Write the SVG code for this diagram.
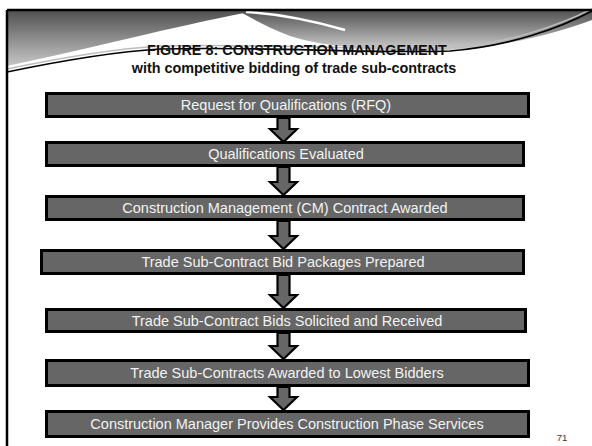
<svg xmlns="http://www.w3.org/2000/svg" width="592" height="446" viewBox="0 0 592 446">
<defs>
<linearGradient id="gL" x1="0" y1="10" x2="0" y2="70" gradientUnits="userSpaceOnUse">
<stop offset="0" stop-color="#505050"/><stop offset="1" stop-color="#cfcfcf"/>
</linearGradient>
<linearGradient id="gR" x1="0" y1="10" x2="0" y2="52" gradientUnits="userSpaceOnUse">
<stop offset="0" stop-color="#505050"/><stop offset="1" stop-color="#d4d4d4"/>
</linearGradient>
</defs>
<style>
.box{fill:#666666;stroke:#000;stroke-width:3}
.lbl{font-family:"Liberation Sans",Arial,sans-serif;font-size:14.5px;fill:#f2f2f2;text-anchor:middle}
.arr{fill:#666666;stroke:#000;stroke-width:2.2;stroke-linejoin:miter}
.ttl{font-family:"Liberation Sans",Arial,sans-serif;font-size:14.4px;font-weight:bold;fill:#111;text-anchor:middle}
</style>
<rect width="592" height="446" fill="#fff"/>
<g id="header">
<path d="M7,10 H262 C200,20 110,44 7,66 Z" fill="url(#gL)"/>
<path d="M236,10 H592 V20 C560,32 510,46 450,50 C380,53 320,46 290,36 C268,28 252,18 236,10 Z" fill="url(#gR)"/>
<path d="M246,12 C280,14 310,20 345,30" fill="none" stroke="#fff" stroke-width="2.5"/>
<path d="M7,69 C60,58 110,49 160,46 C250,43 380,51 450,48 C510,43 560,25 592,9" fill="none" stroke="#bdbdbd" stroke-width="1.5"/>
<path d="M7,72 C60,61 110,52 160,49 C250,46 380,54 450,51 C510,46 560,28 592,11" fill="none" stroke="#000" stroke-width="1.6"/>
<path d="M7,10 H592 M7,10 V446" fill="none" stroke="#000" stroke-width="2.5"/>
</g>
<g id="title">
<text class="ttl" x="297" y="55">FIGURE 8:  CONSTRUCTION MANAGEMENT</text>
<text class="ttl" x="294" y="73">with competitive bidding of trade sub-contracts</text>
</g>
<g id="connectors">
<path class="arr" d="M277.5,118 H289.5 V129 H297 L283.5,142 L270,129 H277.5 Z"/>
<path class="arr" d="M277.5,167 H289.5 V182 H297 L283.5,195 L270,182 H277.5 Z"/>
<path class="arr" d="M277.5,221 H289.5 V236 H297 L283.5,249 L270,236 H277.5 Z"/>
<path class="arr" d="M277.5,275 H289.5 V295 H297 L283.5,308 L270,295 H277.5 Z"/>
<path class="arr" d="M277.5,333 H289.5 V346 H297 L283.5,359 L270,346 H277.5 Z"/>
<path class="arr" d="M277.5,387 H289.5 V397 H297 L283.5,410 L270,397 H277.5 Z"/>
</g>
<g id="n1"><rect class="box" x="46.5" y="93.5" width="482" height="23"/><text class="lbl" x="286" y="110">Request for Qualifications (RFQ)</text></g>
<g id="n2"><rect class="box" x="46.5" y="142.5" width="477" height="23"/><text class="lbl" x="286" y="159">Qualifications Evaluated</text></g>
<g id="n3"><rect class="box" x="46.5" y="196.5" width="477" height="23"/><text class="lbl" x="285" y="213">Construction Management (CM) Contract Awarded</text></g>
<g id="n4"><rect class="box" x="41.5" y="250.5" width="482" height="23"/><text class="lbl" x="283" y="267">Trade Sub-Contract Bid Packages Prepared</text></g>
<g id="n5"><rect class="box" x="46.5" y="309.5" width="479" height="22"/><text class="lbl" x="287" y="325.5">Trade Sub-Contract Bids Solicited and Received</text></g>
<g id="n6"><rect class="box" x="46.5" y="360.5" width="482" height="25"/><text class="lbl" x="287" y="378">Trade Sub-Contracts Awarded to Lowest Bidders</text></g>
<g id="n7"><rect class="box" x="46.5" y="411.5" width="482" height="25"/><text class="lbl" x="287" y="429">Construction Manager Provides Construction Phase Services</text></g>
<text x="562" y="441" font-family="'Liberation Sans',Arial,sans-serif" font-size="9.5" fill="#333" text-anchor="middle">71</text>
</svg>
